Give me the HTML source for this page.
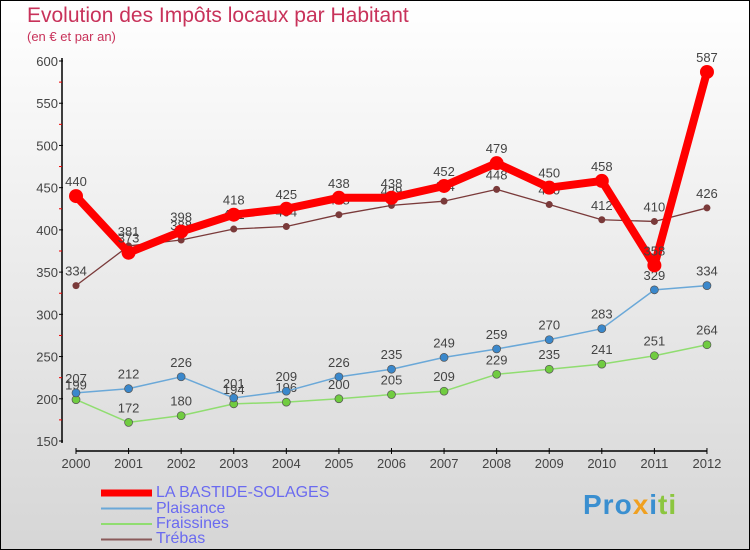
<!DOCTYPE html>
<html><head><meta charset="utf-8"><style>
body{margin:0}
#c{width:748px;height:548px;border:1px solid #000;position:relative;background:linear-gradient(#fff,#d6d6d6);font-family:"Liberation Sans",sans-serif;overflow:hidden}
.t{position:absolute;left:26px;top:3px;font-size:21px;color:#c8325a}
.s{position:absolute;left:26px;top:28px;font-size:13px;color:#c8325a}
.lg{position:absolute;left:155px;font-size:16px;color:#6a6af0}
</style></head><body>
<div id="c">
<div class="t">Evolution des Impôts locaux par Habitant</div>
<div class="s">(en € et par an)</div>
<svg id="svg" width="750" height="550" style="position:absolute;left:0;top:0"></svg>
<div class="lg" style="top:483px">LA BASTIDE-SOLAGES</div>
<div class="lg" style="top:499px">Plaisance</div>
<div class="lg" style="top:514px">Fraissines</div>
<div class="lg" style="top:529px">Trébas</div>
<div style="position:absolute;left:582px;top:488px;font-size:28px;font-weight:bold;letter-spacing:1px"><span style="color:#3a8fd0">Pro</span><span style="color:#f0a020">x</span><span style="color:#3a8fd0">i</span><span style="color:#8cc63f">ti</span></div>
</div>
<script>
const years=["2000","2001","2002","2003","2004","2005","2006","2007","2008","2009","2010","2011","2012"];
const bastide=[440,373,398,418,425,438,438,452,479,450,458,358,587];
const plaisance=[207,212,226,201,209,226,235,249,259,270,283,329,334];
const fraissines=[199,172,180,194,196,200,205,209,229,235,241,251,264];
const trebas=[334,381,388,401,404,418,429,434,448,430,412,410,426];
const yTicks=[150,200,250,300,350,400,450,500,550,600];
const svg=document.getElementById('svg');
const NS='http://www.w3.org/2000/svg';
const X=i=>75+i*52.58, Y=v=>440-(v-150)*380/450;
function mk(t,a){const e=document.createElementNS(NS,t);for(const k in a)e.setAttribute(k,a[k]);svg.appendChild(e);return e;}
let e=mk('line',{x1:61,y1:57,x2:61,y2:442,stroke:'#000','stroke-width':1.5});

e=mk('line',{x1:75,y1:450,x2:706,y2:450,stroke:'#000','stroke-width':1.5});

yTicks.forEach((v,i)=>{mk('line',{x1:58,x2:62,y1:Y(v),y2:Y(v),stroke:'#000'});
 e=mk('text',{x:57,y:Y(v)+5,'text-anchor':'end','font-size':13,fill:'#444'});e.textContent=v;
 
 if(i<yTicks.length-1)mk('line',{x1:58,x2:61,y1:Y(v+25),y2:Y(v+25),stroke:'#e00'});});
years.forEach((y,i)=>{mk('line',{x1:X(i),x2:X(i),y1:447,y2:453,stroke:'#000'});
 e=mk('text',{x:X(i),y:467,'text-anchor':'middle','font-size':13,fill:'#444'});e.textContent=y;
 });
function series(d,col,w,r,name,dot){
 e=mk('polyline',{points:d.map((v,i)=>X(i)+','+Y(v)).join(' '),fill:'none',stroke:col,'stroke-width':w,'stroke-linejoin':'round'});
 
 d.forEach((v,i)=>{e=mk('circle',{cx:X(i),cy:Y(v),r:r,fill:dot,stroke:col==dot?'none':'#555','stroke-width':0.7});
  
  e=mk('text',{x:X(i),y:Y(v)-10,'text-anchor':'middle','font-size':13,fill:'#444'});e.textContent=v;
  });
}
series(trebas,'#7a3a3a',1.3,3.5,'trebas','#7a3a3a');
series(fraissines,'#90dd70',1.5,4,'fraissines','#70cc40');
series(plaisance,'#6aa8d8',1.5,4,'plaisance','#3a88cc');
series(bastide,'#f00',8,7,'bastide','#f00');
[['#f00',7],['#6aa8d8',2],['#90dd70',2],['#8a5a5a',2]].forEach((c,i)=>{
 e=mk('line',{x1:100,x2:151,y1:492+i*15.5,y2:492+i*15.5,stroke:c[0],'stroke-width':c[1]});
 });
</script>
</body></html>
